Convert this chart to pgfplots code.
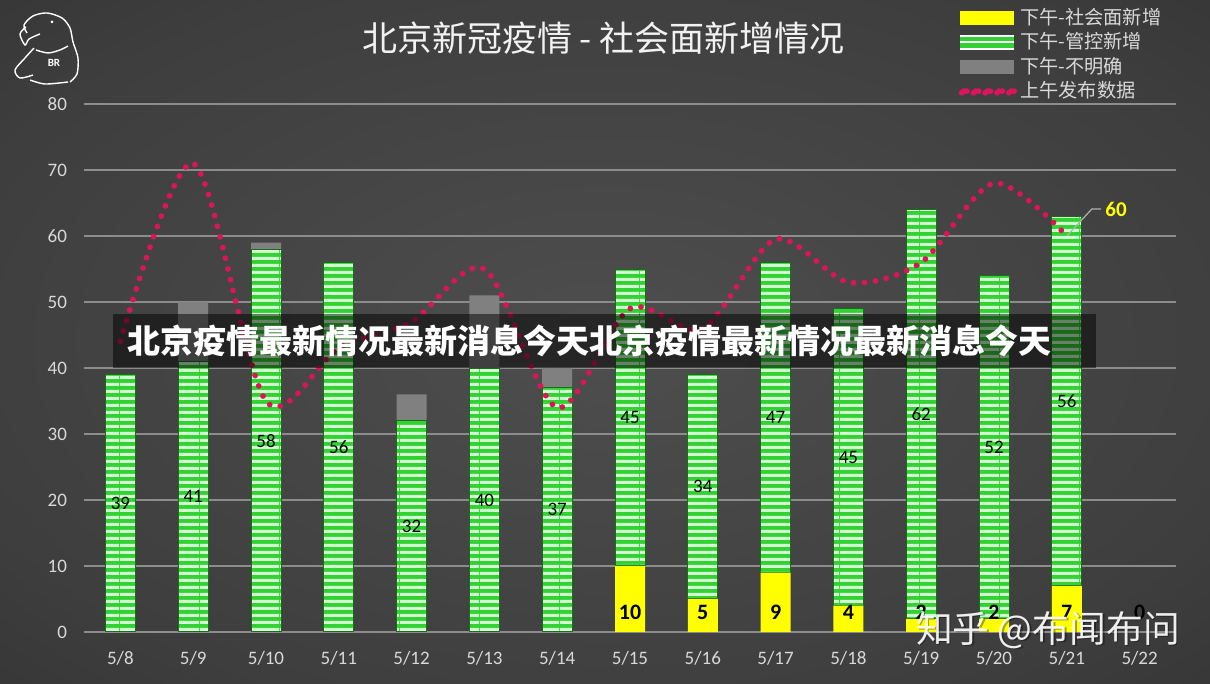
\documentclass[border=0pt]{standalone}
\usepackage{fontspec}
\setmainfont{Carlito}
\newfontfamily\cjk{Noto Sans CJK SC}
\usepackage{pgfplots}
\pgfplotsset{compat=1.18}
\usetikzlibrary{patterns.meta}

\definecolor{bgin}{RGB}{78,78,78}
\definecolor{bgmid}{RGB}{62,62,62}
\definecolor{bgout}{RGB}{36,36,36}
\definecolor{gridc}{RGB}{140,140,140}
\definecolor{tickc}{RGB}{217,217,217}
\definecolor{titlec}{RGB}{242,242,242}
\definecolor{grn}{RGB}{51,210,51}
\definecolor{grndark}{RGB}{25,110,25}
\definecolor{pale}{RGB}{210,255,210}
\definecolor{yel}{RGB}{255,255,0}
\definecolor{gry}{RGB}{128,128,128}
\definecolor{dotred}{RGB}{220,20,90}

\pgfdeclareradialshading{bgshade}{\pgfpoint{0bp}{0bp}}{%
  color(0bp)=(bgin); color(28bp)=(bgmid); color(58bp)=(bgout); color(80bp)=(bgout)}

\tikzdeclarepattern{
  name=hstripes,
  type=uncolored,
  bottom left={(0pt,0pt)},
  top right={(20pt,3.3pt)},
  tile size={(20pt,3.3pt)},
  code={\fill (0pt,0pt) rectangle (20pt,1.7pt);}
}

% bars: social / controlled / unclear
\pgfplotstableread{
x  soc ctl unk
0  0   39  0
1  0   41  9
2  0   58  1
3  0   56  0
4  0   32  4
5  0   40  11
6  0   37  3
7  10  45  0
8  5   34  0
9  9   47  0
10 4   45  0
11 2   62  0
12 2   52  0
13 7   56  0
14 0   0   0
}\bardata

\begin{document}
\begin{tikzpicture}
\shade[shading=bgshade] (0pt,0pt) rectangle (605pt,342pt);
\path[use as bounding box] (0pt,0pt) rectangle (605pt,342pt);

% logo
\begin{scope}[shift={(0pt,342pt)}, x=0.5pt, y=-0.5pt, white, line width=0.7pt]
  \draw plot[smooth] coordinates {(27,33) (24,25) (33,16) (47,13) (62,18) (70,28) (73,42) (78,58) (77,74) (70,82)};
  \draw plot[smooth] coordinates {(26,27) (20,34) (25,45) (29,39) (40,34)};
  \draw plot[smooth] coordinates {(34,48) (25,58) (15,70) (20,78) (33,75)};
  \draw plot[smooth] coordinates {(30,80) (45,84) (68,82)};
  \draw plot[smooth] coordinates {(36,50) (48,53) (60,50) (68,46)};
  \fill (52,22) circle (1.5);
  \node[font=\bfseries\fontsize{5.5}{6}\selectfont] at (54,63) {BR};
\end{scope}

\node[font=\cjk\fontsize{17.5}{20}\selectfont, text=titlec] at (301.75pt,323pt) {北京新冠疫情 - 社会面新增情况};

\begin{axis}[
  at={(42pt,26pt)}, anchor=south west,
  scale only axis, width=546pt, height=264pt,
  ybar stacked, bar width=15pt,
  xmin=-0.5, xmax=14.5, ymin=0, ymax=80,
  xtick={0,...,14},
  xticklabels={5/8,5/9,5/10,5/11,5/12,5/13,5/14,5/15,5/16,5/17,5/18,5/19,5/20,5/21,5/22},
  ytick={0,10,...,80},
  ymajorgrids, grid style={draw=gridc, line width=0.75pt},
  axis line style={draw=none}, major tick length=0pt,
  tick label style={font=\fontsize{9.5}{11}\selectfont, text=tickc},
  /pgf/number format/assume math mode=true,
  yticklabel style={xshift=-5pt},
  xticklabel style={yshift=-6pt},
  clip=false,
]
\addplot[fill=yel, draw=none] table[x=x, y=soc] {\bardata};
\addplot[fill=grn, draw=grndark, line width=0.5pt,
  postaction={pattern=hstripes, pattern color=pale}] table[x=x, y=ctl] {\bardata};
\addplot[fill=gry, draw=none] table[x=x, y=unk] {\bardata};
\end{axis}

\begin{axis}[
  at={(42pt,26pt)}, anchor=south west,
  scale only axis, width=546pt, height=264pt,
  xmin=-0.5, xmax=14.5, ymin=0, ymax=80,
  hide axis, clip=false,
  legend style={at={(axis description cs:0.80,1.188)}, anchor=north west,
    draw=none, fill=none, text=tickc, inner sep=0pt, row sep=-0.6pt,
    font=\cjk\fontsize{9.6}{11}\selectfont,
    nodes={inner sep=1.6pt}},
  legend cell align=left,
]
\addlegendimage{legend image code/.code={\fill[yel] (0pt,-3.2pt) rectangle (26.5pt,3.2pt);}}
\addlegendentry{下午-社会面新增}
\addlegendimage{legend image code/.code={
  \fill[white] (0pt,-3.6pt) rectangle (26.5pt,3.6pt);
  \fill[grn] (0pt,1.1pt) rectangle (26.5pt,2.6pt);
  \fill[grn] (0pt,-2.6pt) rectangle (26.5pt,-0.6pt);}}
\addlegendentry{下午-管控新增}
\addlegendimage{legend image code/.code={\fill[gry] (0pt,-3.2pt) rectangle (26.5pt,3.2pt);}}
\addlegendentry{下午-不明确}

\addplot[smooth, dotred, line width=2.9pt, dash pattern=on 0pt off 5.5pt, line cap=round,
  legend image code/.code={\foreach \i in {0,...,4} \fill[dotred] (2pt+\i*5.9pt,0pt) circle (1.5pt);}]
  coordinates {(0,44) (1,71) (2,35) (3,43) (4,47) (5,55) (6,34) (7,49) (8,46) (9,59.5) (10,53) (11,56) (12,68) (13,60)};
\addlegendentry{上午发布数据}

% controlled labels in the middle of the green segment
\addplot[draw=none, forget plot, nodes near coords, point meta=explicit symbolic,
  nodes near coords style={anchor=center, text=black, font=\fontsize{9.5}{11}\selectfont}]
  table[meta=l] {
x  y    l
0  19.5 39
1  20.5 41
2  29   58
3  28   56
4  16   32
5  20   40
6  18.5 37
7  32.5 45
8  22   34
9  32.5 47
10 26.5 45
11 33   62
12 28   52
13 35   56
};
% social labels at the base
\addplot[draw=none, forget plot, nodes near coords, point meta=explicit symbolic,
  nodes near coords style={anchor=center, text=black, font=\bfseries\fontsize{11}{12}\selectfont}]
  table[meta=l] {
x  y  l
7  3  10
8  3  5
9  3  9
10 3  4
11 3  2
12 3  2
13 3  7
14 3  0
};
\draw[gray!60!white, line width=0.6pt] (axis cs:13,60) -- ++(12.5pt,13.5pt) -- ++(4.5pt,0pt)
  node[right, inner sep=2pt, text=yel, font=\bfseries\fontsize{10.5}{12}\selectfont] {60};
\end{axis}

% overlay banner
\fill[black, opacity=0.5] (56.5pt,158pt) rectangle (548pt,185pt);
\node[font=\cjk\bfseries\fontsize{16.5}{19}\selectfont, text=white] at (294.5pt,171.5pt)
  {北京疫情最新情况最新消息今天北京疫情最新情况最新消息今天};

% watermark
\node[font=\cjk\fontsize{18.4}{20}\selectfont, text=black, opacity=0.35] at (524.8pt,26.3pt) {知乎 @布闻布问};
\node[font=\cjk\fontsize{18.4}{20}\selectfont, text=white, opacity=0.92] at (524pt,27pt) {知乎 @布闻布问};
\end{tikzpicture}
\end{document}
